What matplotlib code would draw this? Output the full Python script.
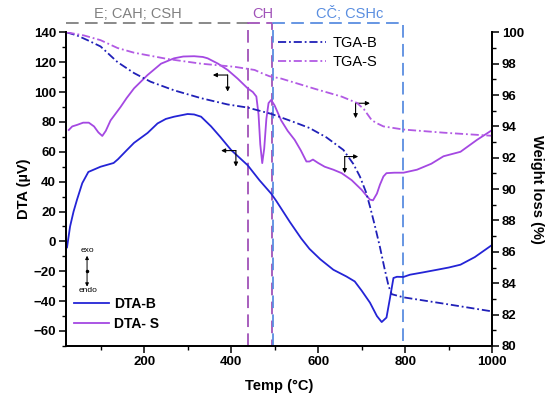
import matplotlib
matplotlib.use("Agg")
import matplotlib.pyplot as plt
from matplotlib.ticker import MultipleLocator

plt.rcParams["font.family"] = ["Liberation Sans", "DejaVu Sans"]

# DTA curves (left axis, uV)
dta_b_temp = [23, 30, 38, 46, 58, 72, 100, 130, 140, 160, 177, 208, 231, 250,
              269, 300, 315, 331, 354, 375, 400, 438, 465, 492, 504, 535, 561, 580,
              605, 635, 665, 684, 700, 719, 735, 746, 757, 765, 773, 781, 796,
              811, 840, 873, 900, 927, 960, 1000]
dta_b_val = [-4, 10, 20, 28, 39, 46.5, 50, 52.5, 55, 61, 66, 72.6, 79, 82,
             83.5, 85.3, 85, 83.5, 77, 70, 61.2, 51, 41, 32, 27, 13, 2, -5,
             -12, -19, -23.5, -26.8, -33, -41, -50, -54, -51, -38, -24.5, -23.7, -23.8,
             -22.3, -20.8, -19, -17.5, -15.6, -10.5, -2.3]

dta_s_temp = [27, 35, 46, 60, 73, 85, 95, 104, 112, 123, 146, 160, 177, 208,
              239, 269, 290, 315, 335, 346, 370, 392, 415, 438, 450, 458, 463,
              467, 471.5, 476, 481, 486, 492, 500, 515, 530, 546, 560, 573, 580,
              588, 600, 615, 635, 654, 677, 700, 710, 719, 726, 735, 742, 750,
              757, 775, 796, 827, 860, 888, 927, 965, 1000]
dta_s_val = [74.6, 77, 78, 79.5, 79.5, 77, 73, 70.6, 74, 81, 90, 96, 102.5, 111.4,
             119, 122.6, 123.8, 124, 123.5, 122.6, 119, 114.8, 109, 102.5, 100, 97, 85,
             65, 52.4, 62, 82, 92.6, 94.7, 91, 81, 74, 68, 61, 53.5, 53.5,
             54.8, 52.5, 50, 48, 45.7, 41, 34.5, 31, 28, 27.5, 32, 38, 43.5,
             45.7, 46, 46, 48, 52, 57, 60, 68, 74.6]

# TGA curves (right axis, %)
tga_b_temp = [22, 46, 70, 100, 139, 177, 215, 269, 331, 392, 438, 492, 542, 580,
              619, 658, 681, 696, 710, 719, 730, 742, 752, 762, 769, 796, 888, 1000]
tga_b_val = [100, 99.8, 99.5, 99.1, 98.1, 97.4, 96.85, 96.3, 95.8, 95.4, 95.2, 94.8,
             94.3, 93.9, 93.3, 92.5, 91.6, 90.8, 89.8, 88.9, 87.7, 86.3, 85, 83.8,
             83.3, 83.1, 82.7, 82.2]

tga_s_temp = [22, 62, 100, 139, 177, 254, 331, 408, 454, 470, 488, 515, 592, 654,
              689, 705, 723, 735, 750, 796, 888, 1000]
tga_s_val = [100, 99.8, 99.5, 99.0, 98.7, 98.3, 98.0, 97.8, 97.6, 97.4, 97.2, 97.05,
             96.4, 95.9, 95.5, 95.1, 94.4, 94.2, 94.0, 93.8, 93.6, 93.4]

# decomposition regions: (start, end, label, colour, label x)
regions = [
    (20, 438, "E; CAH; CSH", "#808080", 186),
    (438, 494, "CH", "#a052b8", 472),
    (497, 794, "CČ; CSHc", "#5a8ee0", 673),
]

# axis-indicator arrows: (x, y, horizontal end x, vertical end y)
pointers = [
    (392, 111.4, 358, 100.3),
    (411, 60.8, 377, 50.1),
    (686, 92.5, 719, 82.5),
    (661, 56.8, 692, 45.7),
]

fig = plt.figure(figsize=(5.5, 3.99), dpi=100)
ax = fig.add_axes([0.1195, 0.133, 0.7755, 0.786])
ax2 = ax.twinx()

dashdot = (0, (4.5, 1.6, 1.0, 1.6))

l1, = ax.plot(dta_b_temp, dta_b_val, color="#2424d6", lw=1.3, label="DTA-B")
l2, = ax.plot(dta_s_temp, dta_s_val, color="#a448e2", lw=1.3, label="DTA- S")
l3, = ax2.plot(tga_b_temp, tga_b_val, color="#2020b8", lw=1.3, linestyle=dashdot,
               label="TGA-B")
l4, = ax2.plot(tga_s_temp, tga_s_val, color="#b25ae4", lw=1.3, linestyle=dashdot,
               label="TGA-S")

ax.set_xlim(20, 1000)
ax.set_ylim(-70, 140)
ax2.set_ylim(80, 100)

box_top = 146.2
box_dash = (0, (7, 3.5))
for i, (start, end, label, colour, lx) in enumerate(regions):
    if i == 0:
        # first region: only the top edge, its sides are the spine and the CH box
        xs, ys = [start, end], [box_top, box_top]
    else:
        xs = [start, start, end, end, start]
        ys = [-70, box_top, box_top, -70, -70]
    ax.plot(xs, ys, color=colour, lw=1.3, linestyle=box_dash,
            clip_on=False, zorder=1)
    ax.text(lx, box_top + 1.5, label, color=colour, fontsize=10.5,
            ha="center", va="bottom")

for x, y, hx, vy in pointers:
    props = dict(arrowstyle="-|>", mutation_scale=6, lw=0.8, color="black",
                 shrinkA=0, shrinkB=0)
    ax.annotate("", xy=(hx, y), xytext=(x, y), arrowprops=props)
    ax.annotate("", xy=(x, vy), xytext=(x, y), arrowprops=props)

# exo / endo indicator
arr = dict(arrowstyle="-|>", mutation_scale=5, lw=0.7, color="black",
           shrinkA=0, shrinkB=0)
ax.annotate("", xy=(69, -9.6), xytext=(69, -20.1), arrowprops=arr)
ax.annotate("", xy=(69, -30.3), xytext=(69, -20.1), arrowprops=arr)
ax.plot([69], [-20.1], marker="o", ms=1.5, color="black")
ax.text(69, -6.1, "exo", fontsize=6, ha="center", va="center")
ax.text(72, -33, "endo", fontsize=6, ha="center", va="center")

for a in (ax, ax2):
    a.spines["top"].set_visible(False)
    for s in a.spines.values():
        s.set_linewidth(1.3)

ax.xaxis.set_major_locator(MultipleLocator(200))
ax.xaxis.set_minor_locator(MultipleLocator(100))
ax.yaxis.set_major_locator(MultipleLocator(20))
ax.yaxis.set_minor_locator(MultipleLocator(10))
ax2.yaxis.set_major_locator(MultipleLocator(2))
ax2.yaxis.set_minor_locator(MultipleLocator(1))

ax.tick_params(which="major", length=5, width=1.1, labelsize=9.5, pad=2)
ax.tick_params(which="minor", length=3, width=1.0)
ax2.tick_params(which="major", length=5, width=1.1, labelsize=9.5, pad=2)
ax2.tick_params(which="minor", length=3, width=1.0)
for lab in ax.get_xticklabels() + ax.get_yticklabels() + ax2.get_yticklabels():
    lab.set_fontweight("bold")

ax.set_xlabel("Temp (°C)", fontsize=10.5, fontweight="bold", labelpad=8)
ax.set_ylabel("DTA (µV)", fontsize=10.5, fontweight="bold", labelpad=2)
ax2.set_ylabel("Weight loss (%)", fontsize=10.5, fontweight="bold",
               rotation=270, labelpad=14)

leg1 = ax2.legend(handles=[l1, l2], loc="upper left", frameon=False,
                  bbox_to_anchor=(0.02, 0.157),
                  prop=dict(weight="bold", size=10), handlelength=2.5,
                  handletextpad=0.36, labelspacing=0.42, borderpad=0,
                  borderaxespad=0)
ax2.add_artist(leg1)
ax2.legend(handles=[l3, l4], loc="upper left", frameon=False,
           bbox_to_anchor=(0.497, 0.988), fontsize=10.5, handlelength=3.3,
           handletextpad=0.45, labelspacing=0.35, borderpad=0, borderaxespad=0)

fig.savefig("out.png", dpi=100)
